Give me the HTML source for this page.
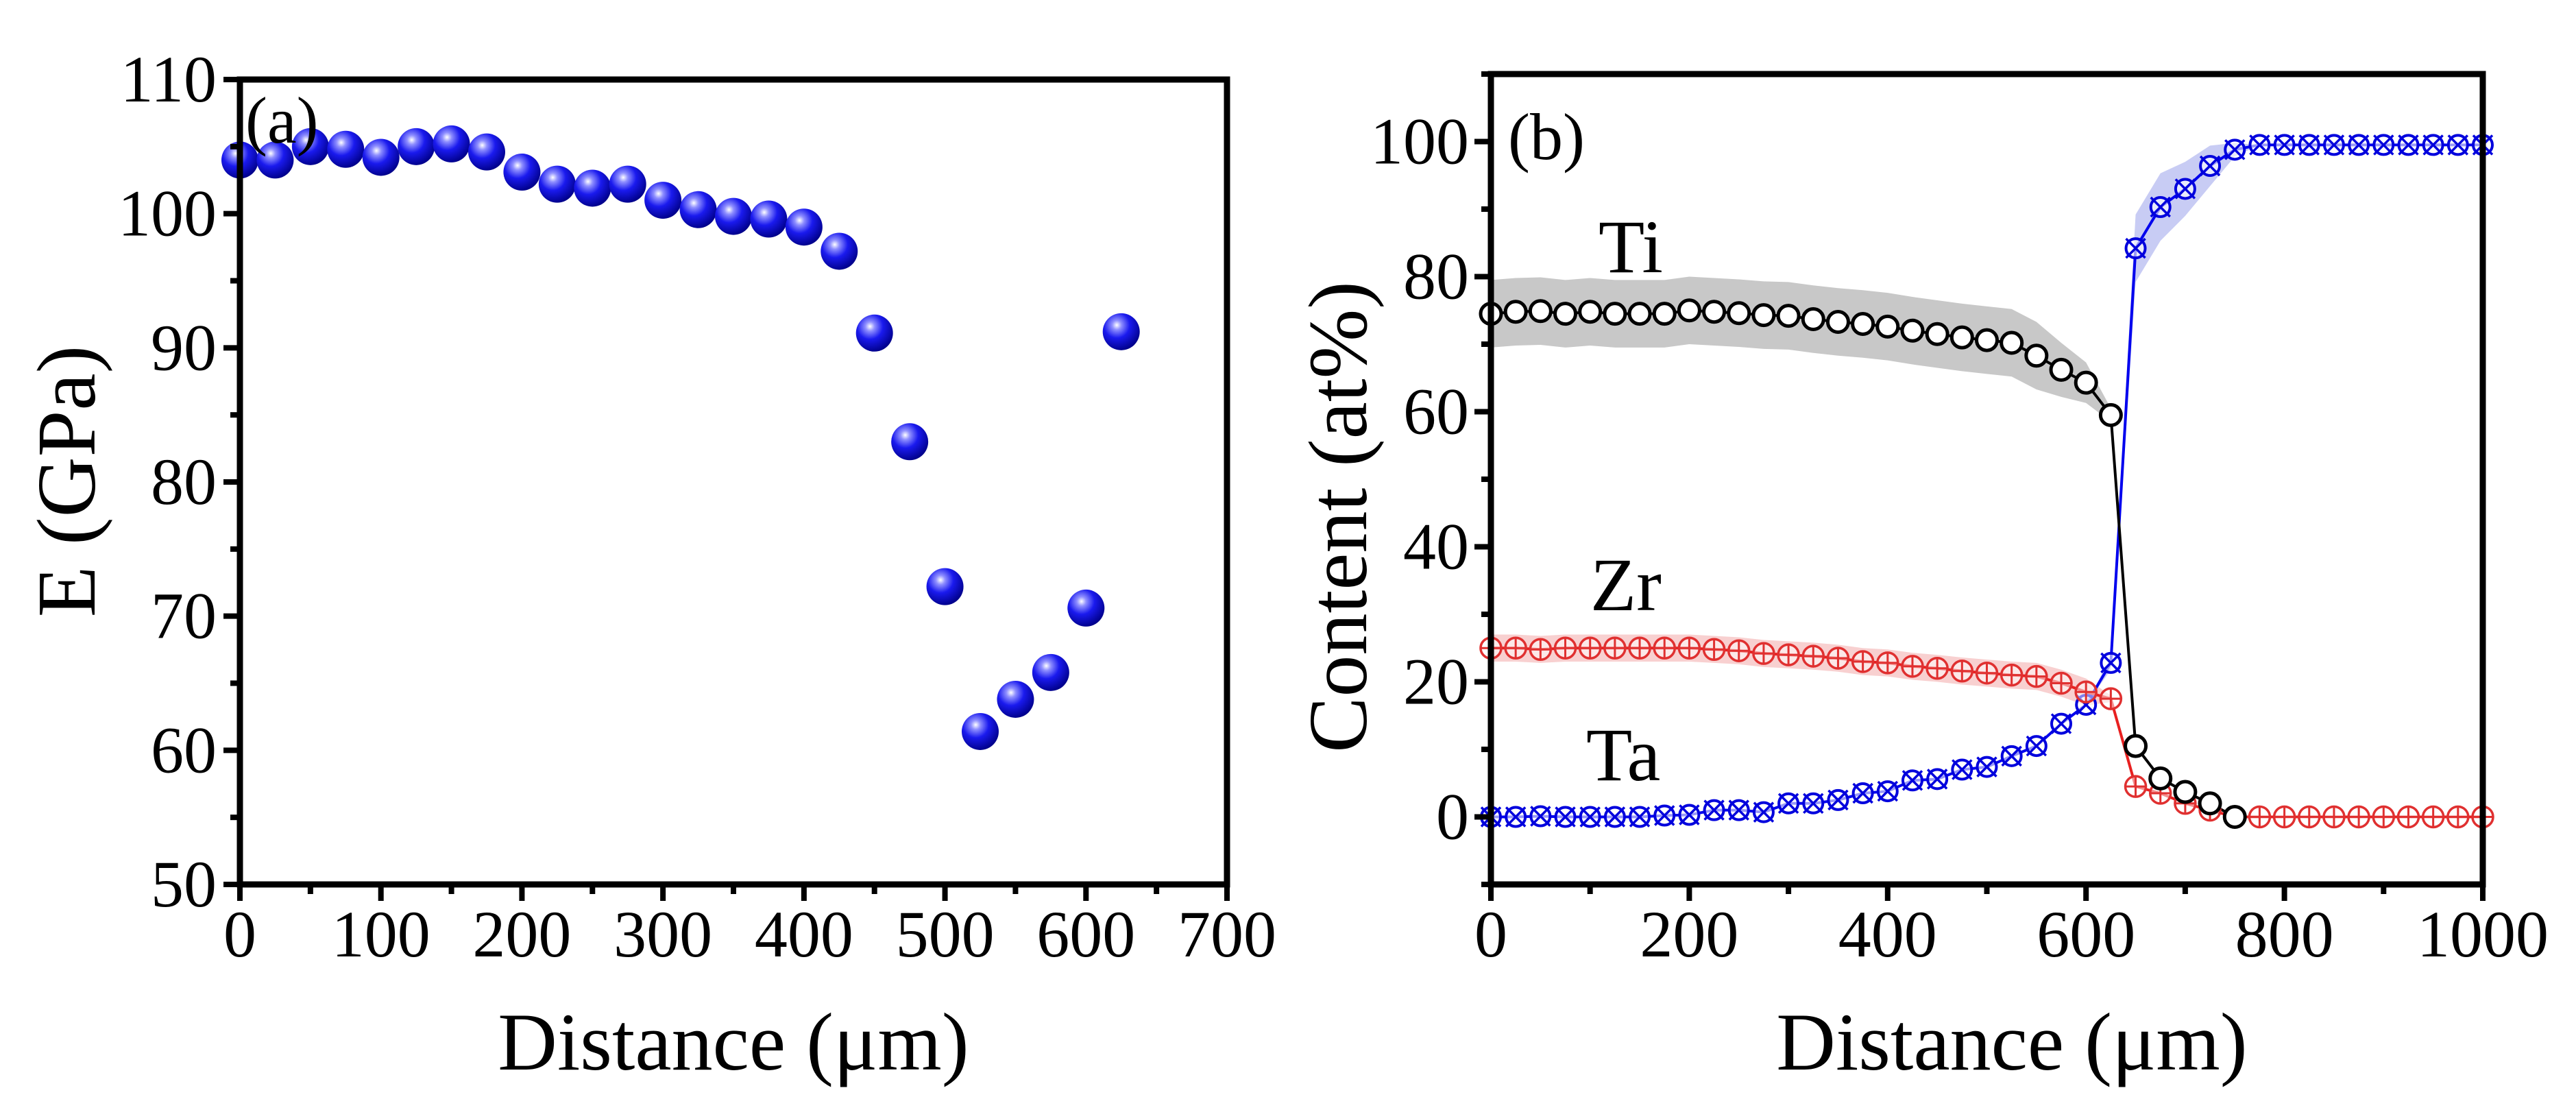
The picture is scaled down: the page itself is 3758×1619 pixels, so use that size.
<!DOCTYPE html>
<html><head><meta charset="utf-8"><style>
html,body{margin:0;padding:0;background:#fff;}
svg{display:block;font-family:"Liberation Serif",serif;}
</style></head><body>
<svg id="fig" width="3758" height="1619" viewBox="0 0 3758 1619" xmlns="http://www.w3.org/2000/svg">
<defs>
<radialGradient id="ball" cx="0.38" cy="0.32" r="0.7">
<stop offset="0" stop-color="#ffffff"/>
<stop offset="0.18" stop-color="#8f8fff"/>
<stop offset="0.5" stop-color="#1a1aee"/>
<stop offset="1" stop-color="#00008a"/>
</radialGradient>
</defs>
<g id="chartA"></g>
<g id="chartB"></g>
</svg>
<script>
// Panel (a) data
const aDist = [0,25,50,75,100,125,150,175,200,225,250,275,300,325,350,375,400,425,450,475,500,525,550,575,600,625];
const aModulus = [104,104,105,104.8,104.2,105,105.2,104.6,103.1,102.2,101.9,102.2,101,100.3,99.8,99.6,99,97.2,91.1,83,72.2,61.4,63.8,65.8,70.6,91.2];
const aXTicks = [0,100,200,300,400,500,600,700];
const aYTicks = [50,60,70,80,90,100,110];
// Panel (b) data
const bDist = [0,25,50,75,100,125,150,175,200,225,250,275,300,325,350,375,400,425,450,475,500,525,550,575,600,625,650,675,700,725,750,775,800,825,850,875,900,925,950,975,1000];
const tiVals = [74.5,74.8,74.9,74.5,74.8,74.5,74.5,74.5,75,74.8,74.6,74.3,74.2,73.7,73.3,73,72.6,72,71.5,71,70.6,70.2,68.3,66.2,64.3,59.5,10.5,5.7,3.7,2,0];
const zrVals = [25,25,24.8,25,25,25,25,25,25,24.8,24.6,24.2,24,23.8,23.5,23,22.8,22.3,22,21.6,21.3,21,20.8,19.8,18.5,17.5,4.5,3.5,2,1,0,0,0,0,0,0,0,0,0,0,0];
const taVals = [0,0,0.1,0,0,0,0,0.2,0.3,1,1,0.7,2,2,2.5,3.5,3.8,5.4,5.6,7,7.4,9,10.5,13.8,16.6,22.8,84.2,90.3,93,96.4,98.8,99.5,99.5,99.5,99.5,99.5,99.5,99.5,99.5,99.5,99.5];
const tiErr = [5,5,5,5,5,5,5,5,5,5,5,5,5,5,5,5,5,5,5,5,5,5,5,4,3,1,0,0,0,0,0];
const zrErr = [2,2,2,2,2,2,2,2,2,2,2,2,2,2,2,2,2,2,2,2,2,2,2,2,2,0.5,0,0,0,0,0];
const taErr = [0,0,0,0,0,0,0,0,0,0,0,0,0,0,0,0,0,0,0,0,0,0,0,0,0,1,5,5,4,3,1,0,0,0,0,0,0,0,0,0,0];
const bXTicks = [0,200,400,600,800,1000];
const bYTicks = [0,20,40,60,80,100];

const NS = "http://www.w3.org/2000/svg";
function mk(parent, tag, attrs){
  const e = document.createElementNS(NS, tag);
  for (const k in attrs) e.setAttribute(k, attrs[k]);
  parent.appendChild(e);
  return e;
}
function txt(parent, x, y, s, size, anchor, extra){
  const t = mk(parent, "text", {x:x, y:y, "font-size":size, "text-anchor":anchor||"middle", fill:"#000"});
  if (extra) t.setAttribute("transform", extra);
  t.textContent = s;
  return t;
}

// ---------- Panel A ----------
const A = {x0:350, x1:1790, y0:1290, y1:116, xmin:0, xmax:700, ymin:50, ymax:110};
const ax = v => A.x0 + (v - A.xmin) / (A.xmax - A.xmin) * (A.x1 - A.x0);
const ay = v => A.y0 - (v - A.ymin) / (A.ymax - A.ymin) * (A.y0 - A.y1);
const gA = document.getElementById("chartA");

aDist.forEach((d, i) => {
  const c = mk(gA, "circle", {cx: ax(d), cy: ay(aModulus[i]), r: 27, fill: "url(#ball)"});
  
  
});

const frameA = mk(gA, "rect", {x:A.x0, y:A.y1, width:A.x1-A.x0, height:A.y0-A.y1, fill:"none", stroke:"#000", "stroke-width":9});



const xaxA = mk(gA, "g", {});


for (let v = 0; v <= 700; v += 50) {
  const major = v % 100 === 0;
  mk(xaxA, "line", {x1:ax(v), x2:ax(v), y1:A.y0, y2:A.y0 + (major?24:14), stroke:"#000", "stroke-width":8});
}
aXTicks.forEach(v => {
  const t = txt(xaxA, ax(v), 1395, String(v), 96);
  
  
});
const yaxA = mk(gA, "g", {});


for (let v = 50; v <= 110; v += 5) {
  const major = v % 10 === 0;
  mk(yaxA, "line", {x1:A.x0, x2:A.x0 - (major?24:14), y1:ay(v), y2:ay(v), stroke:"#000", "stroke-width":8});
}
aYTicks.forEach(v => {
  const t = txt(yaxA, 316, ay(v) + 32, String(v), 96, "end");
  
  
});
const xtA = txt(gA, 1070, 1560, "Distance (\u03bcm)", 120);


const ytA = txt(gA, 0, 0, "E (GPa)", 122, "middle", "translate(138,702) rotate(-90)");


const labA = txt(gA, 358, 208, "(a)", 96, "start");



// ---------- Panel B ----------
const B = {x0:2175, x1:3622, y0:1290, y1:108, xmin:0, xmax:1000, ymin:-10, ymax:110};
const bx = v => B.x0 + (v - B.xmin) / (B.xmax - B.xmin) * (B.x1 - B.x0);
const by = v => B.y0 - (v - B.ymin) / (B.ymax - B.ymin) * (B.y0 - B.y1);
const gB = document.getElementById("chartB");

function band(vals, errs, color, name){
  let top = [], bot = [];
  for (let i = 0; i < errs.length && i < vals.length; i++) {
    top.push(bx(bDist[i]) + "," + by(vals[i] + errs[i]));
    bot.unshift(bx(bDist[i]) + "," + by(vals[i] - errs[i]));
  }
  const p = mk(gB, "polygon", {points: top.concat(bot).join(" "), fill: color, stroke: "none"});
  
  
}
band(tiVals, tiErr, "#c8c8c8", "ti-error-band");
band(zrVals, zrErr, "#f8d0d0", "zr-error-band");
band(taVals, taErr, "#c8ccf4", "ta-error-band");

function line(vals, color, name){
  const pts = vals.map((v, i) => bx(bDist[i]) + "," + by(v)).join(" ");
  const l = mk(gB, "polyline", {points: pts, fill: "none", stroke: color, "stroke-width": 4});
  
  
}
line(taVals, "#0000ee", "ta-line");
line(zrVals, "#e82020", "zr-line");
line(tiVals, "#000", "ti-line");

taVals.forEach((v, i) => {
  const g = mk(gB, "g", {});
  
  
  const cx = bx(bDist[i]), cy = by(v), r = 14;
  mk(g, "circle", {cx:cx, cy:cy, r:r, fill:"#fff", "fill-opacity":0.6, stroke:"#0000dd", "stroke-width":4});
  mk(g, "line", {x1:cx-r, y1:cy-r, x2:cx+r, y2:cy+r, stroke:"#0000dd", "stroke-width":3.5});
  mk(g, "line", {x1:cx-r, y1:cy+r, x2:cx+r, y2:cy-r, stroke:"#0000dd", "stroke-width":3.5});
});
zrVals.forEach((v, i) => {
  const g = mk(gB, "g", {});
  
  
  const cx = bx(bDist[i]), cy = by(v), r = 15;
  mk(g, "circle", {cx:cx, cy:cy, r:r, fill:"#fff", "fill-opacity":0.5, stroke:"#e03030", "stroke-width":3.5});
  mk(g, "line", {x1:cx-r, y1:cy, x2:cx+r, y2:cy, stroke:"#e03030", "stroke-width":3});
  mk(g, "line", {x1:cx, y1:cy-r, x2:cx, y2:cy+r, stroke:"#e03030", "stroke-width":3});
});
tiVals.forEach((v, i) => {
  const c = mk(gB, "circle", {cx:bx(bDist[i]), cy:by(v), r:15, fill:"#fff", stroke:"#000", "stroke-width":5});
  
  
});

const frameB = mk(gB, "rect", {x:B.x0, y:B.y1, width:B.x1-B.x0, height:B.y0-B.y1, fill:"none", stroke:"#000", "stroke-width":9});



const xaxB = mk(gB, "g", {});


for (let v = 0; v <= 1000; v += 100) {
  const major = v % 200 === 0;
  mk(xaxB, "line", {x1:bx(v), x2:bx(v), y1:B.y0, y2:B.y0 + (major?24:14), stroke:"#000", "stroke-width":8});
}
bXTicks.forEach(v => {
  const t = txt(xaxB, bx(v), 1395, String(v), 96);
  
  
});
const yaxB = mk(gB, "g", {});


for (let v = -10; v <= 110; v += 10) {
  const major = v % 20 === 0;
  mk(yaxB, "line", {x1:B.x0, x2:B.x0 - (major?24:14), y1:by(v), y2:by(v), stroke:"#000", "stroke-width":8});
}
bYTicks.forEach(v => {
  const t = txt(yaxB, 2143, by(v) + 32, String(v), 96, "end");
  
  
});
const xtB = txt(gB, 2935, 1560, "Distance (\u03bcm)", 120);


const ytB = txt(gB, 0, 0, "Content (at%)", 122, "middle", "translate(1993,754) rotate(-90)");


const labB = txt(gB, 2200, 232, "(b)", 96, "start");


const lTi = txt(gB, 2332, 397, "Ti", 110, "start");


const lZr = txt(gB, 2320, 890, "Zr", 110, "start");


const lTa = txt(gB, 2314, 1138, "Ta", 110, "start");


</script>
</body></html>
